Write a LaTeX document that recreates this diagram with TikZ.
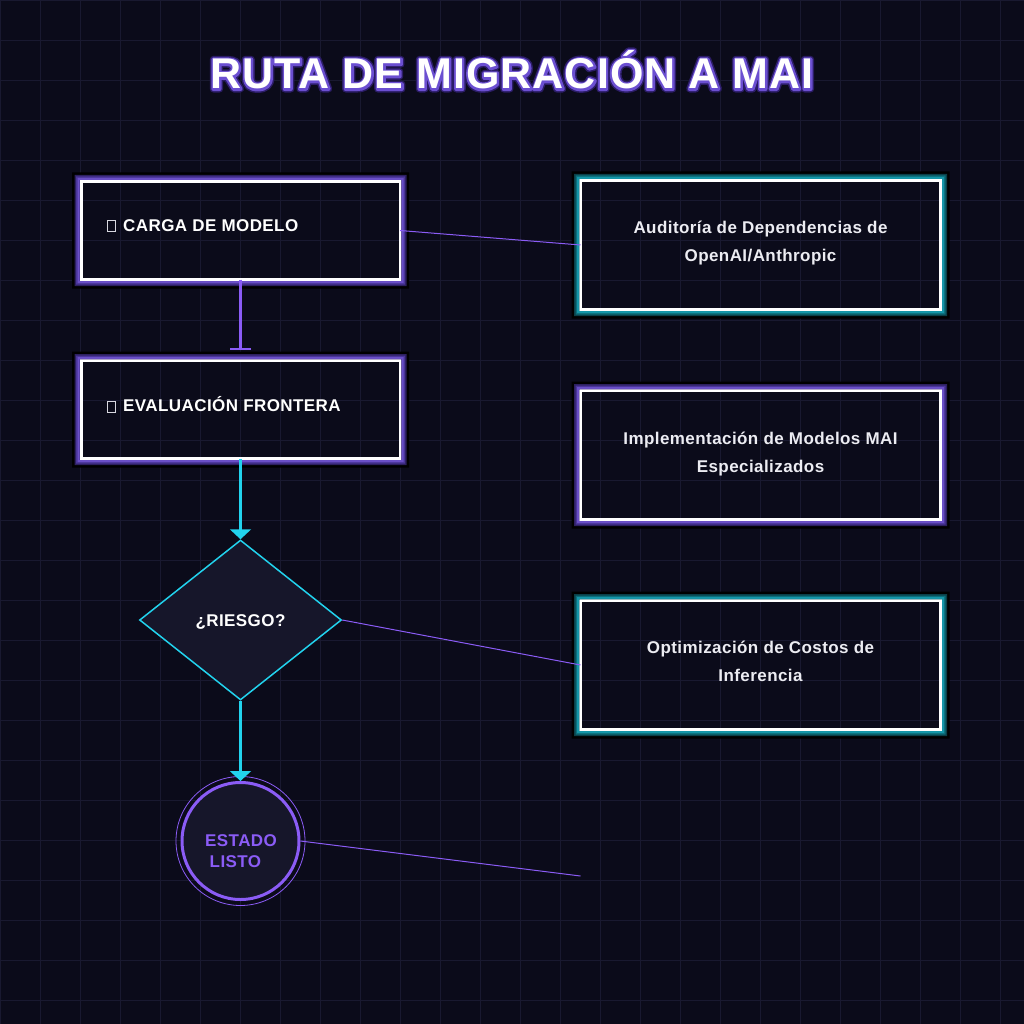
\documentclass[tikz,border=0pt]{standalone}
\usepackage{fontspec}
\setmainfont{Liberation Sans}
\newfontfamily\lblfont[LetterSpace=2.5]{Liberation Sans}
\newfontfamily\ttlfont[LetterSpace=2.4]{Liberation Sans}
\usetikzlibrary{arrows.meta,shapes.geometric}
\definecolor{bgc}{HTML}{0B0B1A}
\definecolor{gridc}{HTML}{191930}
\definecolor{vio}{HTML}{8B5CF6}
\definecolor{cyn}{HTML}{22D3EE}
\definecolor{pA}{HTML}{2D2060}
\definecolor{pB}{HTML}{4A3599}
\definecolor{pC}{HTML}{6A4FC6}
\definecolor{tA}{HTML}{0A3F48}
\definecolor{tB}{HTML}{0C6E7A}
\definecolor{tC}{HTML}{1596A8}
\definecolor{shapefill}{HTML}{16162A}
\definecolor{softwhite}{HTML}{ECECF2}
\definecolor{tofuc}{HTML}{D8D8E0}

\newcommand\tofubox{{\color{tofuc}\setlength{\fboxsep}{0pt}\setlength{\fboxrule}{1pt}\fbox{\rule{0pt}{10pt}\rule{7pt}{0pt}}}}

% outlined title: stroked copies under a filled copy
\newcommand\strokecopy[3]{\special{pdf:literal direct q 1 Tr #1 w 1 j #2 RG}\rlap{#3}\special{pdf:literal direct Q}}
\newcommand\glowtitle[1]{\strokecopy{7}{0.17 0.11 0.40}{#1}\strokecopy{4}{0.42 0.31 0.82}{#1}#1}

\newcommand\glowframe[4]{%
  \foreach \fw/\fc in {9/black,6.5/#2,5/#3,3.5/#4}{%
    \fill[fill=\fc, even odd rule]
      ([shift={(-\fw pt,-\fw pt)}]#1.south west) rectangle ([shift={(\fw pt,\fw pt)}]#1.north east)
      ([shift={(-1.5pt,-1.5pt)}]#1.south west) rectangle ([shift={(1.5pt,1.5pt)}]#1.north east);
  }}

\tikzset{
  lbox/.style={draw=white, line width=3pt, minimum width=319pt, minimum height=98pt, inner sep=0pt, outer sep=0pt},
  rbox/.style={draw=white, line width=3pt, minimum width=360pt, minimum height=129pt, inner sep=0pt, outer sep=0pt},
  lbl/.style={text=white, font=\lblfont\bfseries\fontsize{17pt}{20pt}\selectfont, inner sep=0pt, anchor=west, text height=12.2pt, text depth=1pt},
  rlbl/.style={text=softwhite, font=\lblfont\bfseries\fontsize{17pt}{28pt}\selectfont, align=center, inner sep=0pt},
  ctext/.style={text=vio, font=\lblfont\bfseries\fontsize{17pt}{20.8pt}\selectfont, align=left, anchor=west, inner sep=0pt},
  ttl/.style={font=\ttlfont\bfseries\fontsize{43pt}{50pt}\selectfont, anchor=base, inner sep=0pt},
  link/.style={draw=vio, line width=1pt},
  flowv/.style={draw=vio, line width=2.2pt},
  flowc/.style={draw=cyn, line width=2.2pt, -{Triangle[width=21pt,length=10pt]}},
}

\begin{document}
\begin{tikzpicture}[x=1pt, y=-1pt]
\useasboundingbox (0,0) rectangle (1024,1024);
\fill[bgc] (0,0) rectangle (1024,1024);
\foreach \i in {0,...,25}{
  \draw[gridc, line width=1pt] (\i*40+0.5,0) -- (\i*40+0.5,1024);
  \draw[gridc, line width=1pt] (0,\i*40+0.5) -- (1024,\i*40+0.5);
}

% title
\node[ttl, text=white] (title) at (512,89) {\glowtitle{RUTA DE MIGRACIÓN A MAI}};

% boxes
\node[lbox] (load) at (240.5,230.5) {};
\node[lbox] (eval) at (240.5,409.5) {};
\node[rbox] (audit) at (760.5,245) {};
\node[rbox] (impl) at (760.5,455) {};
\node[rbox] (cost) at (760.5,665) {};
\glowframe{load}{pA}{pB}{pC}
\glowframe{eval}{pA}{pB}{pC}
\glowframe{audit}{tA}{tB}{tC}
\glowframe{impl}{pA}{pB}{pC}
\glowframe{cost}{tA}{tB}{tC}

\node[lbl] (loadtxt) at (107,225.5) {\tofubox\hspace{7pt}CARGA DE MODELO};
\node[lbl] (evaltxt) at (107,406) {\tofubox\hspace{7pt}EVALUACIÓN FRONTERA};
\node[rlbl] (audittxt) at (760.5,243) {Auditoría de Dependencias de\\OpenAI/Anthropic};
\node[rlbl] (impltxt) at (760.5,453.7) {Implementación de Modelos MAI\\Especializados};
\node[rlbl] (costtxt) at (760.5,661.5) {Optimización de Costos de\\Inferencia};

% decision and end state
\node[diamond, draw=cyn, line width=1.5pt, fill=shapefill, minimum width=202pt, minimum height=160pt,
      inner sep=0pt, aspect=1.2625, text=white, font=\lblfont\bfseries\fontsize{17pt}{20pt}\selectfont,
      text height=12.2pt, text depth=0pt] (risk) at (240.5,620) {¿RIESGO?};
\node[circle, draw=vio, line width=3pt, fill=shapefill, minimum size=117pt, inner sep=0pt] (ready) at (240.5,841) {};
\draw[vio, line width=0.8pt] (ready.center) circle[radius=64.5pt];
\node[ctext] (readytxt) at (205,851) {ESTADO\\\hspace*{4.5pt}LISTO};

% connectors
\draw[flowv, -{Bar[width=21pt]}, shorten >=10.5pt] (load.south) -- (eval.north);
\draw[flowc] (eval.south) -- (risk.north);
\draw[flowc] (risk.south) -- (ready.north);
\coordinate (loose) at (580.5,876);
\draw[link] (load.east) -- (audit.west);
\draw[link] (risk.east) -- (cost.west);
\draw[link] (ready.east) -- (loose);
\end{tikzpicture}
\end{document}
